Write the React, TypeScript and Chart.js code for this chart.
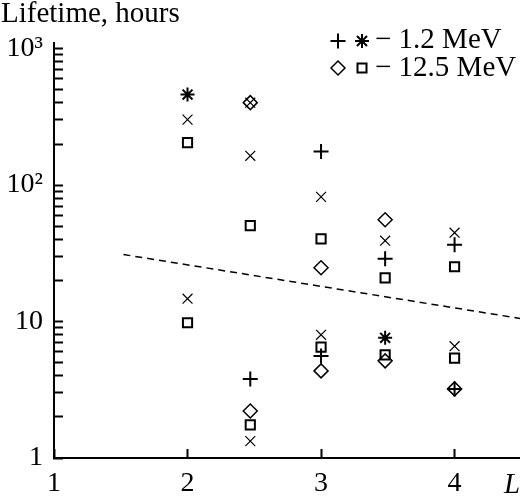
import React, { useEffect, useRef } from 'react';
import { Chart, registerables } from 'chart.js';

Chart.register(...registerables);

// ---- data (L value, lifetime in hours) ----
const plusL = [2.47, 3, 3, 3.48, 4, 4];
const plusLife = [3.8, 176, 5.6, 28.8, 36.5, 3.21];
const starL = [2, 3.48];
const starLife = [461, 7.6];
const diamondL = [2.47, 2.47, 3, 3, 3.48, 3.48, 4];
const diamondLife = [402, 2.21, 24.8, 4.35, 55.7, 5.15, 3.21];
const squareL = [2, 2, 2.47, 2.47, 3, 3, 3.48, 3.48, 4, 4];
const squareLife = [205, 9.8, 50.4, 1.75, 40.4, 6.5, 20.9, 5.7, 25.2, 5.4];
const crossL = [2, 2, 2.47, 2.47, 2.47, 3, 3, 3.48, 4, 4];
const crossLife = [302, 14.7, 402, 164, 1.33, 82, 8.0, 39.1, 44.8, 6.6];
const trendL = [1.52, 4.5];
const trendLife = [31, 10.5];

const xTicks = [1, 2, 3, 4];
const xTickLabels = ['1', '2', '3', '4'];
const yTicks = [
  1, 2, 3, 4, 5, 6, 7, 8, 9,
  10, 20, 30, 40, 50, 60, 70, 80, 90,
  100, 200, 300, 400, 500, 600, 700, 800, 900,
  1000,
];
const yTickValues = [1, 10, 100, 1000];
const yTickLabels = ['1', '10', '10\u00B2', '10\u00B3'];
const yTitle = 'Lifetime, hours';
const xTitle = 'L';
const legendRows = ['\u2212 1.2 MeV', '\u2212 12.5 MeV'];

const FONT = '"Liberation Serif", "Times New Roman", serif';
const FS = 29;
const TICK_FS = 28;

const pts = (xs: number[], ys: number[]) => xs.map((x, i) => ({ x, y: ys[i] }));

function drawPlus(ctx: CanvasRenderingContext2D, x: number, y: number, r: number) {
  ctx.beginPath();
  ctx.moveTo(x - r, y); ctx.lineTo(x + r, y);
  ctx.moveTo(x, y - r); ctx.lineTo(x, y + r);
  ctx.stroke();
}

const annotPlugin = {
  id: 'annot',
  afterDraw(chart: any) {
    const ctx: CanvasRenderingContext2D = chart.ctx;
    ctx.save();
    ctx.fillStyle = '#000';
    ctx.strokeStyle = '#000';
    ctx.font = `${FS}px ${FONT}`;
    ctx.textAlign = 'left';
    ctx.textBaseline = 'alphabetic';
    ctx.fillText(yTitle, 1, 22);
    ctx.fillText(legendRows[0], 375, 48);
    ctx.fillText(legendRows[1], 375, 76);
    // legend markers
    ctx.lineWidth = 2;
    drawPlus(ctx, 338, 41, 7.5);
    // star
    drawPlus(ctx, 362, 41, 7);
    ctx.beginPath();
    ctx.moveTo(357, 36); ctx.lineTo(367, 46);
    ctx.moveTo(367, 36); ctx.lineTo(357, 46);
    ctx.stroke();
    // diamond
    ctx.lineWidth = 1.5;
    ctx.beginPath();
    ctx.moveTo(338, 61); ctx.lineTo(345, 68); ctx.lineTo(338, 75); ctx.lineTo(331, 68);
    ctx.closePath();
    ctx.stroke();
    // square
    ctx.lineWidth = 2;
    ctx.strokeRect(357.5, 63.5, 9, 9);
    // x axis title
    ctx.font = `italic ${FS}px ${FONT}`;
    ctx.fillText(xTitle, 504, 493);
    ctx.restore();
  },
};

export default function App() {
  const ref = useRef<HTMLCanvasElement>(null);
  useEffect(() => {
    if (!ref.current) return;
    const common = { showLine: false, borderColor: '#000', backgroundColor: 'rgba(0,0,0,0)' };
    const chart = new Chart(ref.current, {
      type: 'scatter',
      data: {
        datasets: [
          {
            type: 'line',
            data: pts(trendL, trendLife),
            borderColor: '#000',
            borderWidth: 1.5,
            borderDash: [7, 5],
            pointRadius: 0,
            fill: false,
          } as any,
          { ...common, data: pts(crossL, crossLife), pointStyle: 'crossRot', pointRadius: 7, borderWidth: 1.2 },
          { ...common, data: pts(diamondL, diamondLife), pointStyle: 'rectRot', pointRadius: 7, borderWidth: 1.5 },
          { ...common, data: pts(squareL, squareLife), pointStyle: 'rect', pointRadius: 6.5, borderWidth: 2 },
          { ...common, data: pts(plusL, plusLife), pointStyle: 'cross', pointRadius: 7.5, borderWidth: 2 },
          { ...common, data: pts(starL, starLife), pointStyle: 'star', pointRadius: 7, borderWidth: 2 },
        ],
      },
      options: {
        responsive: false,
        animation: false,
        devicePixelRatio: 1,
        layout: { autoPadding: false, padding: { left: 0, right: 0, top: 43, bottom: 0 } },
        plugins: { legend: { display: false }, tooltip: { enabled: false }, title: { display: false } },
        elements: { point: { hoverRadius: 7 } },
        scales: {
          x: {
            type: 'linear',
            min: 1,
            max: 4.49,
            afterBuildTicks: (s: any) => { s.ticks = xTicks.map((v) => ({ value: v })); },
            afterFit: (s: any) => { s.height = 39; s.paddingLeft = 0; s.paddingRight = 0; },
            grid: { drawOnChartArea: false, tickLength: -9, tickWidth: 2, tickColor: '#000' },
            border: { display: true, color: '#000', width: 2 },
            ticks: {
              autoSkip: false,
              maxRotation: 0,
              padding: 18,
              color: '#000',
              font: { family: FONT, size: TICK_FS },
              callback: (v: any) => { const i = xTicks.indexOf(Number(v)); return i >= 0 ? xTickLabels[i] : ''; },
            },
          },
          y: {
            type: 'logarithmic',
            min: 1,
            max: 1100,
            afterBuildTicks: (s: any) => { s.ticks = yTicks.map((v) => ({ value: v })); },
            afterFit: (s: any) => { s.width = 54; s.paddingTop = 0; s.paddingBottom = 0; },
            grid: { drawOnChartArea: false, tickLength: -9, tickWidth: 2, tickColor: '#000' },
            border: { display: true, color: '#000', width: 2 },
            ticks: {
              autoSkip: false,
              padding: 20,
              color: '#000',
              font: { family: FONT, size: TICK_FS },
              callback: (v: any) => { const i = yTickValues.indexOf(Number(v)); return i >= 0 ? yTickLabels[i] : ''; },
            },
          },
        },
      },
      plugins: [annotPlugin],
    } as any);
    return () => chart.destroy();
  }, []);
  return (
    <div style={{ position: 'absolute', left: 0, top: 0, width: 520, height: 497, background: '#fff' }}>
      <canvas ref={ref} width={520} height={497} style={{ display: 'block' }} />
    </div>
  );
}
